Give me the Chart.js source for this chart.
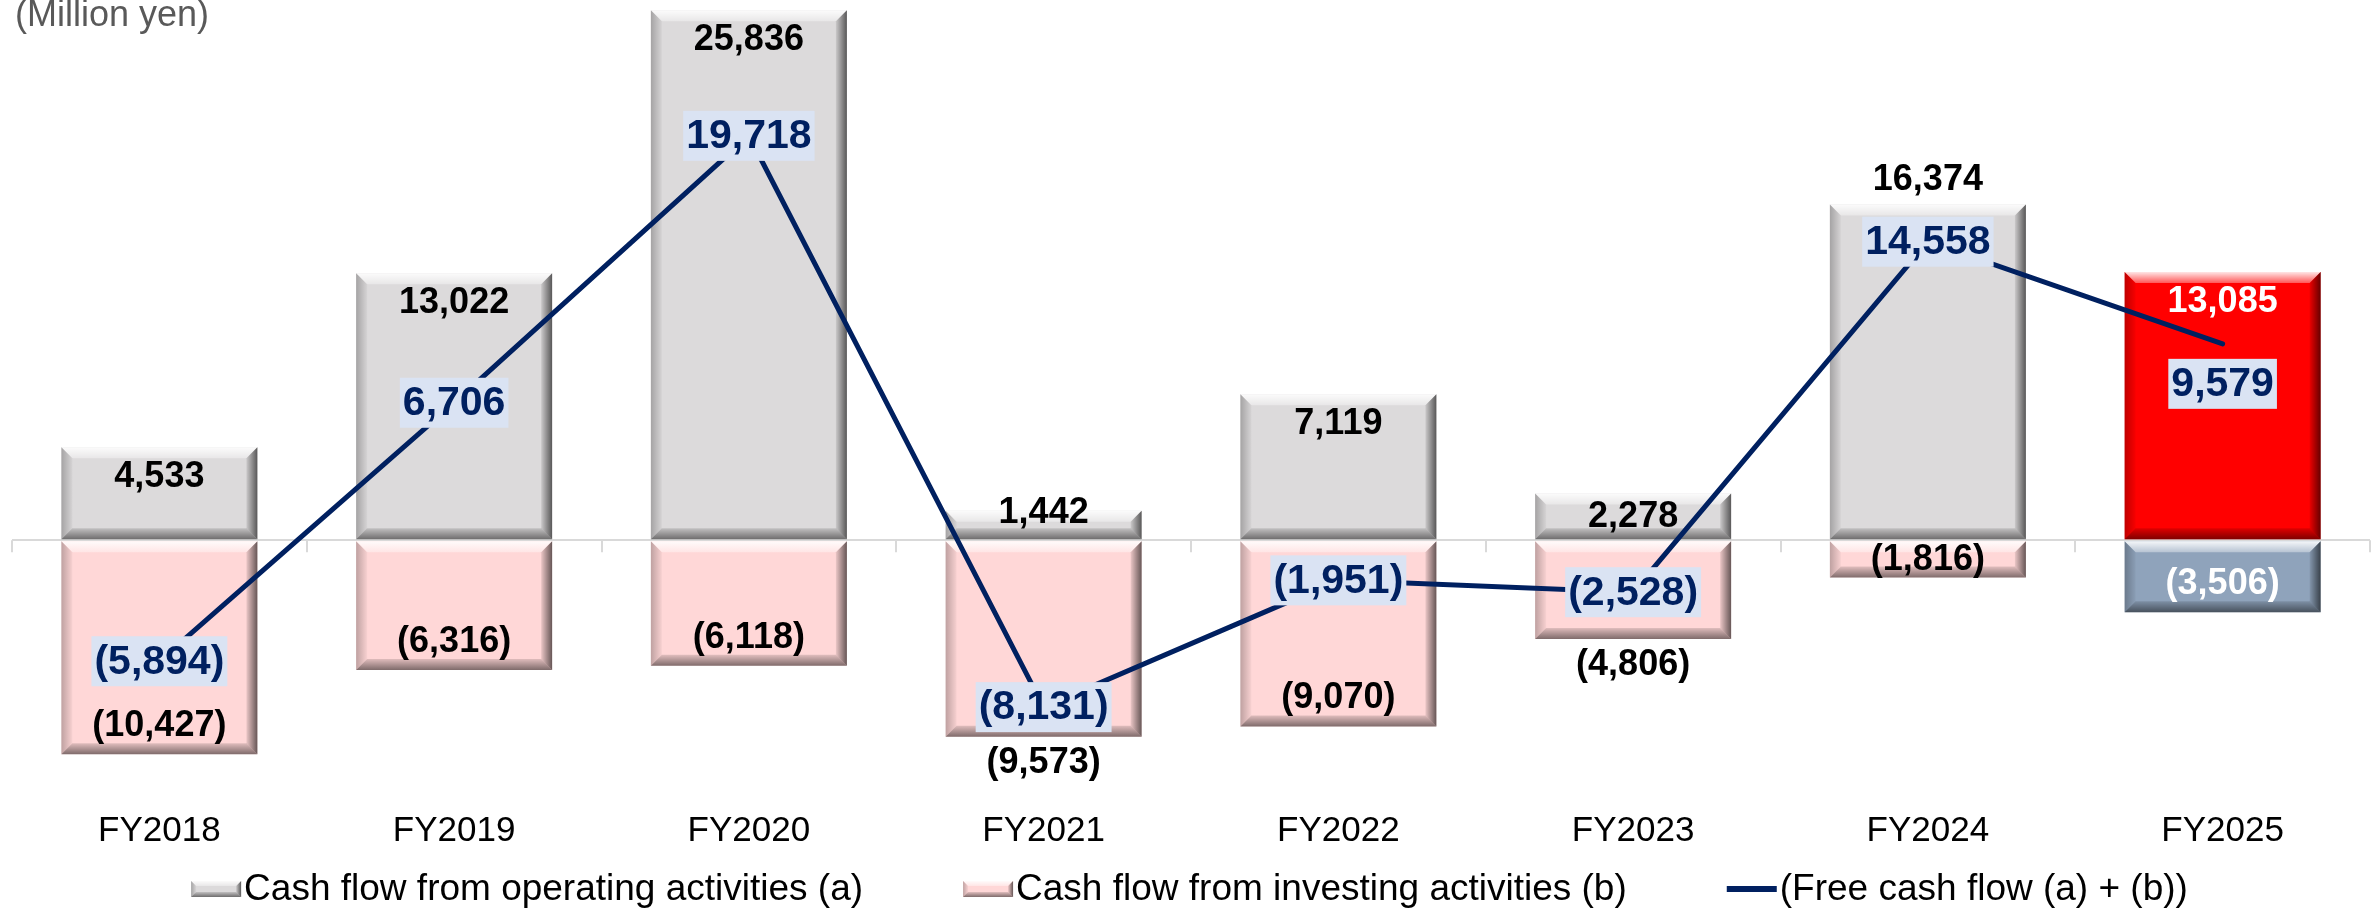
<!DOCTYPE html>
<html><head><meta charset="utf-8">
<script src="https://cdn.jsdelivr.net/npm/chart.js@4.4.0/dist/chart.umd.min.js"></script>
<style>html,body{margin:0;padding:0;background:#fff;overflow:hidden}#wrap{width:2379px;height:910px;position:relative}</style>
</head><body><div id="wrap"><canvas id="c" width="2379" height="910"></canvas></div>
<script>
// ---- data ----
const categories = ['FY2018','FY2019','FY2020','FY2021','FY2022','FY2023','FY2024','FY2025'];
const operating = [4533, 13022, 25836, 1442, 7119, 2278, 16374, 13085];
const investing = [-10427, -6316, -6118, -9573, -9070, -4806, -1816, -3506];
const freeCashFlow = [-5894, 6706, 19718, -8131, -1951, -2528, 14558, 9579];
const seriesNames = ['Cash flow from operating activities (a)', 'Cash flow from investing activities (b)', '(Free cash flow (a) + (b))'];
const unitLabel = '(Million yen)';

// ---- styles ----
const FONT = '"Liberation Sans", Arial, sans-serif';
const opColors = ['#dcdadb','#dcdadb','#dcdadb','#dcdadb','#dcdadb','#dcdadb','#dcdadb','#ff0000'];
const invColors = ['#ffd7d7','#ffd7d7','#ffd7d7','#ffd7d7','#ffd7d7','#ffd7d7','#ffd7d7','#8fa3bb'];
const opLabelColors = ['#000','#000','#000','#000','#000','#000','#000','#fff'];
const invLabelColors = ['#000','#000','#000','#000','#000','#000','#000','#fff'];
const opLabelPos = ['in','in','in','edge','in','mid','out','in'];
const invLabelPos = ['in','in','in','out','in','out','mid','in'];
const fcfLabelDy = [0,0,0,0,0,0,0,40];
const NAVY = '#002060';

function fmt(v){ const s = Math.abs(v).toLocaleString('en-US'); return v < 0 ? '(' + s + ')' : s; }

function poly(ctx, pts, style){
  ctx.beginPath(); ctx.moveTo(pts[0][0], pts[0][1]);
  for (let i=1;i<pts.length;i++) ctx.lineTo(pts[i][0], pts[i][1]);
  ctx.closePath(); ctx.fillStyle = style; ctx.fill();
}
function bevel(ctx, x0, y0, x1, y1, b, fill){
  const w = x1-x0, h = y1-y0;
  b = Math.min(b, w/2, h/2);
  ctx.save();
  if (fill){ ctx.fillStyle = fill; ctx.fillRect(x0,y0,w,h); }
  let g = ctx.createLinearGradient(0,y0,0,y0+b);
  g.addColorStop(0,'rgba(255,255,255,0.9)'); g.addColorStop(1,'rgba(255,255,255,0.35)');
  poly(ctx, [[x0,y0],[x1,y0],[x1-b,y0+b],[x0+b,y0+b]], g);
  g = ctx.createLinearGradient(x0,0,x0+b,0);
  g.addColorStop(0,'rgba(0,0,0,0.25)'); g.addColorStop(1,'rgba(0,0,0,0.03)');
  poly(ctx, [[x0,y0],[x0+b,y0+b],[x0+b,y1-b],[x0,y1]], g);
  g = ctx.createLinearGradient(x1-b,0,x1,0);
  g.addColorStop(0,'rgba(0,0,0,0.08)'); g.addColorStop(1,'rgba(0,0,0,0.6)');
  poly(ctx, [[x1,y0],[x1,y1],[x1-b,y1-b],[x1-b,y0+b]], g);
  g = ctx.createLinearGradient(0,y1-b,0,y1);
  g.addColorStop(0,'rgba(0,0,0,0.12)'); g.addColorStop(1,'rgba(0,0,0,0.5)');
  poly(ctx, [[x0,y1],[x1,y1],[x1-b,y1-b],[x0+b,y1-b]], g);
  ctx.restore();
}

const bevelPlugin = {
  id: 'bevel',
  afterDatasetDraw(chart, args){
    if (args.meta.type !== 'bar') return;
    const ctx = chart.ctx;
    args.meta.data.forEach(el => {
      const p = el.getProps(['x','y','base','width'], true);
      const top = Math.min(p.y, p.base), bot = Math.max(p.y, p.base);
      bevel(ctx, p.x - p.width/2, top, p.x + p.width/2, bot, 11, null);
    });
  }
};

const axisTicksPlugin = {
  id: 'axisTicks',
  beforeDatasetsDraw(chart){
    const ctx = chart.ctx, xs = chart.scales.x, ys = chart.scales.y;
    const y0 = ys.getPixelForValue(0);
    ctx.save(); ctx.strokeStyle = '#d9d9d9'; ctx.lineWidth = 2;
    for (let i=0;i<=categories.length;i++){
      const x = Math.round(xs.getPixelForValue(i-0.5));
      ctx.beginPath(); ctx.moveTo(x, y0); ctx.lineTo(x, y0+12); ctx.stroke();
    }
    ctx.restore();
  }
};

const labelsPlugin = {
  id: 'labels',
  afterDatasetsDraw(chart){
    const ctx = chart.ctx;
    ctx.save();
    ctx.textAlign = 'center'; ctx.textBaseline = 'middle';
    const barSets = [[0, operating, opLabelPos, opLabelColors], [1, investing, invLabelPos, invLabelColors]];
    ctx.font = 'bold 36px ' + FONT;
    barSets.forEach(([di, vals, pos, cols]) => {
      const meta = chart.getDatasetMeta(di);
      meta.data.forEach((el, i) => {
        const p = el.getProps(['x','y','base'], true);
        const dir = vals[i] >= 0 ? -1 : 1;
        let y;
        if (pos[i] === 'in') y = p.y - dir*29;
        else if (pos[i] === 'out') y = p.y + dir*25;
        else if (pos[i] === 'edge') y = p.y + 1;
        else y = (p.y + p.base)/2;
        ctx.fillStyle = cols[i];
        ctx.fillText(fmt(vals[i]), p.x, y + 1);
      });
    });
    ctx.font = 'bold 41px ' + FONT;
    const lm = chart.getDatasetMeta(2);
    lm.data.forEach((el, i) => {
      const t = fmt(freeCashFlow[i]);
      const w = ctx.measureText(t).width + 6;
      const cy = el.y + fcfLabelDy[i];
      ctx.fillStyle = '#dae3f3';
      ctx.fillRect(el.x - w/2, cy - 25, w, 50);
      ctx.fillStyle = NAVY;
      ctx.fillText(t, el.x, cy + 1);
    });
    ctx.restore();
  },
  afterDraw(chart){
    const ctx = chart.ctx;
    ctx.save();
    ctx.font = '36px ' + FONT; ctx.fillStyle = '#595959';
    ctx.textAlign = 'left'; ctx.textBaseline = 'alphabetic';
    ctx.fillText(unitLabel, 15, 26);
    ctx.font = '37px ' + FONT;
    const sw = 50, gapIn = 3, gapItem = 100, cy = 889;
    const widths = seriesNames.map(n => sw + gapIn + ctx.measureText(n).width);
    const total = widths.reduce((a,b)=>a+b,0) + gapItem*(widths.length-1);
    let x = chart.width/2 - total/2;
    const swFill = [opColors[0], invColors[0]];
    seriesNames.forEach((n, i) => {
      if (i < 2) bevel(ctx, x, cy-8, x+sw, cy+8, 5, swFill[i]);
      else { ctx.fillStyle = NAVY; ctx.fillRect(x, cy-3, sw, 6); }
      ctx.fillStyle = '#000'; ctx.textBaseline = 'middle';
      ctx.fillText(n, x + sw + gapIn, cy + 1);
      x += widths[i] + gapItem;
    });
    ctx.restore();
  }
};

new Chart(document.getElementById('c'), {
  data: {
    labels: categories,
    datasets: [
      { type: 'bar', label: seriesNames[0], data: operating, backgroundColor: opColors, borderWidth: 0, stack: 'cf', order: 1,
        barPercentage: 0.665, categoryPercentage: 1 },
      { type: 'bar', label: seriesNames[1], data: investing, backgroundColor: invColors, borderWidth: 0, stack: 'cf', order: 1,
        barPercentage: 0.665, categoryPercentage: 1 },
      { type: 'line', label: seriesNames[2], data: freeCashFlow, borderColor: NAVY, borderWidth: 5, pointRadius: 0,
        tension: 0, fill: false, stack: 'fcf', order: 0, borderCapStyle: 'round' }
    ]
  },
  options: {
    responsive: false, animation: false, devicePixelRatio: 1,
    layout: { padding: { left: 12, right: 9, top: 7, bottom: 63 } },
    plugins: { legend: { display: false }, tooltip: { enabled: false } },
    scales: {
      x: { stacked: true, offset: true,
           grid: { display: false }, border: { display: false },
           ticks: { color: '#000', font: { family: FONT, size: 35 }, padding: -5, maxRotation: 0, autoSkip: false } },
      y: { stacked: true, min: -13000, max: 26000,
           ticks: { display: false, stepSize: 13000 },
           border: { display: false },
           grid: { drawTicks: false, lineWidth: 2, color: c => c.tick && c.tick.value === 0 ? '#d9d9d9' : 'rgba(0,0,0,0)' } }
    }
  },
  plugins: [axisTicksPlugin, bevelPlugin, labelsPlugin]
});
</script>
</body></html>
